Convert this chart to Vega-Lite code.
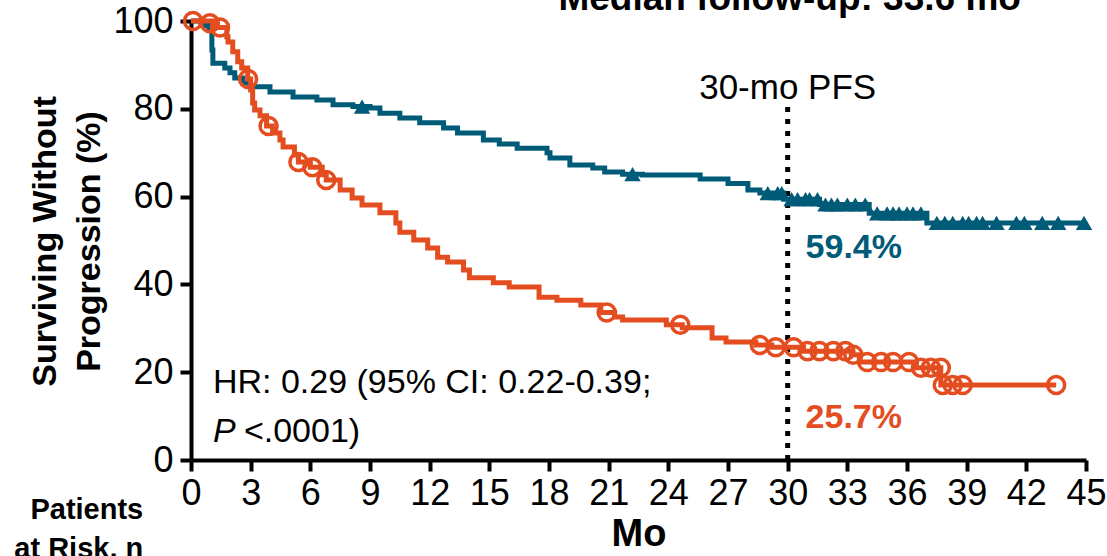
{
  "$schema": "https://vega.github.io/schema/vega-lite/v6.json",
  "width": 895,
  "height": 439,
  "autosize": {"type": "none"},
  "padding": {"left": 191, "top": 21, "right": 21, "bottom": 96},
  "background": "white",
  "config": {
    "view": {"stroke": null},
    "font": "Liberation Sans",
    "axis": {"grid": false, "domainColor": "black", "domainWidth": 4, "tickColor": "black", "tickWidth": 4, "tickSize": 11, "labelColor": "black", "titleColor": "black", "labelFont": "Liberation Sans", "titleFont": "Liberation Sans"}
  },
  "datasets": {
    "blue": [
      {"t": 0, "s": 100}, {"t": 0.5, "s": 99}, {"t": 0.9, "s": 98}, {"t": 1.05, "s": 93.4}, {"t": 1.1, "s": 90.4},
      {"t": 1.7, "s": 89.3}, {"t": 1.96, "s": 88.2}, {"t": 2.2, "s": 87}, {"t": 2.6, "s": 85.9}, {"t": 2.97, "s": 85},
      {"t": 3.97, "s": 83.8}, {"t": 5.13, "s": 82.7}, {"t": 6.33, "s": 82}, {"t": 7.14, "s": 80.9}, {"t": 8.14, "s": 80.5},
      {"t": 9.0, "s": 80.2}, {"t": 9.5, "s": 79}, {"t": 10.5, "s": 77.9}, {"t": 11.5, "s": 76.8}, {"t": 12.7, "s": 75.6},
      {"t": 13.4, "s": 74.5}, {"t": 14.7, "s": 72.9}, {"t": 15.5, "s": 72}, {"t": 16.4, "s": 71}, {"t": 17.9, "s": 70},
      {"t": 18.05, "s": 68.8}, {"t": 19.05, "s": 67.2}, {"t": 20.2, "s": 66.5}, {"t": 20.8, "s": 65.6}, {"t": 21.7, "s": 65.1},
      {"t": 22.7, "s": 64.9}, {"t": 25.6, "s": 64}, {"t": 27, "s": 63}, {"t": 28, "s": 61.5}, {"t": 28.6, "s": 60.8},
      {"t": 29.8, "s": 59.4}, {"t": 31.6, "s": 58.2}, {"t": 34.1, "s": 56.2}, {"t": 37, "s": 54}, {"t": 44.9, "s": 54}
    ],
    "orange": [
      {"t": 0, "s": 100}, {"t": 1.2, "s": 98.5}, {"t": 1.8, "s": 96.4}, {"t": 1.86, "s": 95.2}, {"t": 2.1, "s": 93},
      {"t": 2.35, "s": 90.7}, {"t": 2.55, "s": 89.3}, {"t": 2.85, "s": 86.8}, {"t": 3.0, "s": 84.3}, {"t": 3.1, "s": 81.3},
      {"t": 3.2, "s": 79.7}, {"t": 3.47, "s": 78.4}, {"t": 3.8, "s": 76.1}, {"t": 4.1, "s": 74.5}, {"t": 4.47, "s": 72.9},
      {"t": 4.63, "s": 71.3}, {"t": 5.2, "s": 69.5}, {"t": 5.4, "s": 67.9}, {"t": 6.0, "s": 66.7}, {"t": 6.6, "s": 65},
      {"t": 6.8, "s": 63.8}, {"t": 7.5, "s": 61.5}, {"t": 8.1, "s": 59.7}, {"t": 8.6, "s": 58.1}, {"t": 9.5, "s": 56.3},
      {"t": 10.3, "s": 54}, {"t": 10.5, "s": 51.9}, {"t": 11.2, "s": 50.1}, {"t": 11.9, "s": 48.3}, {"t": 12.4, "s": 46.2},
      {"t": 12.9, "s": 45.1}, {"t": 13.7, "s": 43.3}, {"t": 14.0, "s": 41.5}, {"t": 15.2, "s": 40.4}, {"t": 16.0, "s": 39.4},
      {"t": 17.5, "s": 37.1}, {"t": 18.4, "s": 36.4}, {"t": 19.6, "s": 35.3}, {"t": 20.6, "s": 33.6}, {"t": 21.3, "s": 32.6},
      {"t": 21.7, "s": 31.9}, {"t": 23.9, "s": 30.8}, {"t": 24.7, "s": 30.1}, {"t": 26.2, "s": 27.8}, {"t": 26.9, "s": 26.9},
      {"t": 28.4, "s": 26.2}, {"t": 29.2, "s": 25.7}, {"t": 30.8, "s": 24.8}, {"t": 33.2, "s": 24.0}, {"t": 33.6, "s": 22.3},
      {"t": 36.4, "s": 21}, {"t": 37.7, "s": 17.1}, {"t": 43.5, "s": 17.1}
    ],
    "blueCens": [
      {"t": 8.6, "s": 80.5}, {"t": 22.2, "s": 65.1},
      {"t": 29.0, "s": 60.8}, {"t": 29.5, "s": 60.8}, {"t": 29.7, "s": 60.8}, {"t": 30.2, "s": 59.4}, {"t": 30.5, "s": 59.4},
      {"t": 30.9, "s": 59.4}, {"t": 31.1, "s": 59.4}, {"t": 31.5, "s": 59.4}, {"t": 31.9, "s": 58.2}, {"t": 32.2, "s": 58.2},
      {"t": 32.5, "s": 58.2}, {"t": 33.0, "s": 58.2}, {"t": 33.4, "s": 58.2}, {"t": 33.9, "s": 58.2}, {"t": 34.5, "s": 56.2},
      {"t": 35.0, "s": 56.2}, {"t": 35.3, "s": 56.2}, {"t": 35.6, "s": 56.2}, {"t": 36.0, "s": 56.2}, {"t": 36.3, "s": 56.2},
      {"t": 36.7, "s": 56.2}, {"t": 37.5, "s": 54}, {"t": 37.9, "s": 54}, {"t": 38.3, "s": 54}, {"t": 38.8, "s": 54},
      {"t": 39.1, "s": 54}, {"t": 39.5, "s": 54}, {"t": 39.8, "s": 54}, {"t": 40.5, "s": 54}, {"t": 41.5, "s": 54},
      {"t": 41.9, "s": 54}, {"t": 42.8, "s": 54}, {"t": 43.6, "s": 54}, {"t": 44.9, "s": 54}
    ],
    "orangeCens": [
      {"t": 0.1, "s": 100}, {"t": 0.95, "s": 99.5}, {"t": 1.46, "s": 98.5}, {"t": 2.87, "s": 86.8}, {"t": 3.9, "s": 76.1},
      {"t": 5.4, "s": 67.9}, {"t": 6.1, "s": 66.7}, {"t": 6.8, "s": 63.8}, {"t": 20.9, "s": 33.6}, {"t": 24.6, "s": 30.8},
      {"t": 28.6, "s": 26.2}, {"t": 29.4, "s": 25.7}, {"t": 30.3, "s": 25.7}, {"t": 31.0, "s": 24.8}, {"t": 31.6, "s": 24.8},
      {"t": 32.3, "s": 24.8}, {"t": 32.9, "s": 24.8}, {"t": 33.3, "s": 24.0}, {"t": 34.0, "s": 22.3}, {"t": 34.7, "s": 22.3},
      {"t": 35.3, "s": 22.3}, {"t": 36.1, "s": 22.3}, {"t": 36.7, "s": 21}, {"t": 37.2, "s": 21}, {"t": 37.7, "s": 21},
      {"t": 37.8, "s": 17.1}, {"t": 38.3, "s": 17.1}, {"t": 38.8, "s": 17.1}, {"t": 43.5, "s": 17.1}
    ]
  },
  "layer": [
    {
      "data": {"values": [{"t": 30, "y0": 0, "y1": 81}]},
      "mark": {"type": "rule", "color": "black", "strokeWidth": 5, "strokeDash": [5, 7], "strokeCap": "butt"},
      "encoding": {
        "x": {"field": "t", "type": "quantitative", "scale": {"domain": [0, 45], "nice": false},
          "axis": {"values": [0, 3, 6, 9, 12, 15, 18, 21, 24, 27, 30, 33, 36, 39, 42, 45], "labelFontSize": 36, "labelPadding": 5, "title": "Mo", "titleFontSize": 38, "titleFontWeight": "bold", "titlePadding": 4, "labelFlush": false}},
        "y": {"field": "y0", "type": "quantitative", "scale": {"domain": [0, 100], "nice": false},
          "axis": {"values": [0, 20, 40, 60, 80, 100], "labelFontSize": 36, "labelPadding": 7, "title": ["Surviving Without", "Progression (%)"], "titleFontSize": 34, "titleFontWeight": "bold", "titleLineHeight": 44, "titleBaseline": "top", "titleX": -163, "titleY": 220, "labelFlush": false}},
        "y2": {"field": "y1"}
      }
    },
    {
      "data": {"name": "blue"},
      "mark": {"type": "line", "interpolate": "step-after", "color": "#005B79", "strokeWidth": 5},
      "encoding": {"x": {"field": "t", "type": "quantitative"}, "y": {"field": "s", "type": "quantitative"}}
    },
    {
      "data": {"name": "orange"},
      "mark": {"type": "line", "interpolate": "step-after", "color": "#E44D1F", "strokeWidth": 5},
      "encoding": {"x": {"field": "t", "type": "quantitative"}, "y": {"field": "s", "type": "quantitative"}}
    },
    {
      "data": {"name": "blueCens"},
      "mark": {"type": "point", "shape": "triangle-up", "filled": true, "color": "#005B79", "size": 270, "opacity": 1},
      "encoding": {"x": {"field": "t", "type": "quantitative"}, "y": {"field": "s", "type": "quantitative"}}
    },
    {
      "data": {"name": "orangeCens"},
      "mark": {"type": "point", "shape": "circle", "filled": false, "color": "#E44D1F", "size": 290, "strokeWidth": 3.5, "opacity": 1},
      "encoding": {"x": {"field": "t", "type": "quantitative"}, "y": {"field": "s", "type": "quantitative"}}
    },
    {
      "data": {"values": [{"t": 30, "s": 84.7, "label": "30-mo PFS"}]},
      "mark": {"type": "text", "fontSize": 35, "align": "center", "baseline": "middle", "color": "black"},
      "encoding": {"x": {"field": "t", "type": "quantitative"}, "y": {"field": "s", "type": "quantitative"}, "text": {"field": "label"}}
    },
    {
      "data": {"values": [{"t": 30.1, "s": 102.6, "label": "Median follow-up: 33.6 mo"}]},
      "mark": {"type": "text", "fontSize": 37, "fontWeight": "bold", "align": "center", "baseline": "alphabetic", "color": "black", "clip": false},
      "encoding": {"x": {"field": "t", "type": "quantitative"}, "y": {"field": "s", "type": "quantitative"}, "text": {"field": "label"}}
    },
    {
      "data": {"values": [{"t": 30.9, "s": 48.3, "label": "59.4%"}]},
      "mark": {"type": "text", "fontSize": 34, "fontWeight": "bold", "align": "left", "baseline": "middle", "color": "#005B79"},
      "encoding": {"x": {"field": "t", "type": "quantitative"}, "y": {"field": "s", "type": "quantitative"}, "text": {"field": "label"}}
    },
    {
      "data": {"values": [{"t": 30.9, "s": 9.6, "label": "25.7%"}]},
      "mark": {"type": "text", "fontSize": 34, "fontWeight": "bold", "align": "left", "baseline": "middle", "color": "#E44D1F"},
      "encoding": {"x": {"field": "t", "type": "quantitative"}, "y": {"field": "s", "type": "quantitative"}, "text": {"field": "label"}}
    },
    {
      "data": {"values": [{"t": 1.1, "s": 17.5, "label": "HR: 0.29 (95% CI: 0.22-0.39;"}]},
      "mark": {"type": "text", "fontSize": 34, "align": "left", "baseline": "middle", "color": "black"},
      "encoding": {"x": {"field": "t", "type": "quantitative"}, "y": {"field": "s", "type": "quantitative"}, "text": {"field": "label"}}
    },
    {
      "data": {"values": [{"t": 1.1, "s": 6.4, "label": "P"}]},
      "mark": {"type": "text", "fontSize": 34, "fontStyle": "italic", "align": "left", "baseline": "middle", "color": "black"},
      "encoding": {"x": {"field": "t", "type": "quantitative"}, "y": {"field": "s", "type": "quantitative"}, "text": {"field": "label"}}
    },
    {
      "data": {"values": [{"t": 1.1, "s": 6.4, "label": "<.0001)"}]},
      "mark": {"type": "text", "fontSize": 34, "align": "left", "baseline": "middle", "color": "black", "dx": 31},
      "encoding": {"x": {"field": "t", "type": "quantitative"}, "y": {"field": "s", "type": "quantitative"}, "text": {"field": "label"}}
    },
    {
      "data": {"values": [{"t": -2.4, "s": -11.4, "label": "Patients"}, {"t": -2.4, "s": -20.2, "label": "at Risk, n"}]},
      "mark": {"type": "text", "fontSize": 29, "fontWeight": "bold", "align": "right", "baseline": "middle", "color": "black", "clip": false},
      "encoding": {"x": {"field": "t", "type": "quantitative"}, "y": {"field": "s", "type": "quantitative"}, "text": {"field": "label"}}
    }
  ]
}
